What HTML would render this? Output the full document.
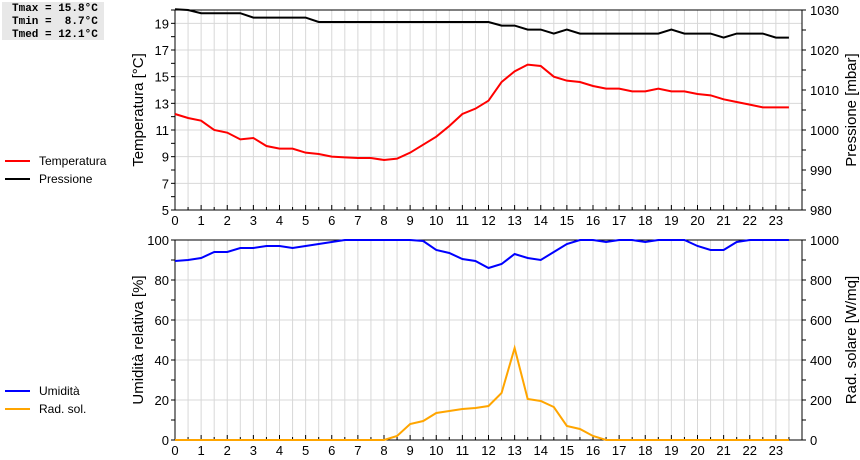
<!DOCTYPE html>
<html><head><meta charset="utf-8">
<style>
body{margin:0;background:#fff;width:860px;height:460px;overflow:hidden;font-family:"Liberation Sans",sans-serif}
#stats{position:absolute;left:2px;top:2px;width:102px;height:38px;background:#e8e8e8;font:bold 11px "Liberation Mono",monospace;line-height:13px;padding:1px 0 0 10px;box-sizing:border-box;white-space:pre}
svg{position:absolute;left:0;top:0}
</style></head><body>
<div id="stats">Tmax = 15.8°C
Tmin =  8.7°C
Tmed = 12.1°C</div>
<svg id="c" width="860" height="460"></svg>
<script>
const hours=[0,0.5,1,1.5,2,2.5,3,3.5,4,4.5,5,5.5,6,6.5,7,7.5,8,8.5,9,9.5,10,10.5,11,11.5,12,12.5,13,13.5,14,14.5,15,15.5,16,16.5,17,17.5,18,18.5,19,19.5,20,20.5,21,21.5,22,22.5,23,23.5];
const temperature=[12.2,11.9,11.7,11.0,10.8,10.3,10.4,9.8,9.6,9.6,9.3,9.2,9.0,8.95,8.9,8.9,8.75,8.85,9.3,9.9,10.5,11.3,12.2,12.6,13.2,14.6,15.4,15.9,15.8,15.0,14.7,14.6,14.3,14.1,14.1,13.9,13.9,14.1,13.9,13.9,13.7,13.6,13.3,13.1,12.9,12.7,12.7,12.7];
const pressure=[1030.2,1030,1029.2,1029.2,1029.2,1029.2,1028.1,1028.1,1028.1,1028.1,1028.1,1027,1027,1027,1027,1027,1027,1027,1027,1027,1027,1027,1027,1027,1027,1026.1,1026.1,1025.1,1025.1,1024.1,1025.1,1024.1,1024.1,1024.1,1024.1,1024.1,1024.1,1024.1,1025.1,1024.1,1024.1,1024.1,1023.1,1024.1,1024.1,1024.1,1023.1,1023.1];
const humidity=[89.5,90,91,94,94,96,96,97,97,96,97,98,99,100,100,100,100,100,100,99.5,95,93.5,90.5,89.5,86,88,93,91,90,94,98,100,100,99,100,100,99,100,100,100,97,95,95,99,100,100,100,100];
const solar=[0,0,0,0,0,0,0,0,0,0,0,0,0,0,0,0,0,20,80,95,135,145,155,160,170,235,460,205,195,165,70,55,20,0,0,0,0,0,0,0,0,0,0,0,0,0,0,0];
const tempTicks=[5,7,9,11,13,15,17,19];
const presTicks=[980,990,1000,1010,1020,1030];
const humTicks=[0,20,40,60,80,100];
const solTicks=[0,200,400,600,800,1000];

const NS="http://www.w3.org/2000/svg",svg=document.getElementById('c');
const L=175,R=802;
const X=h=>L+(R-L)*h/24;
function el(t,a,txt){const e=document.createElementNS(NS,t);for(const k in a)e.setAttribute(k,a[k]);if(txt!=null)e.textContent=txt;svg.appendChild(e);return e;}
function panel(top,bot,lmin,lmax,rmin,rmax,lt,rt,lminor,rminor,lgrid,ltitle,rtitle,pfx){
  const YL=v=>bot-(bot-top)*(v-lmin)/(lmax-lmin);
  const YR=v=>bot-(bot-top)*(v-rmin)/(rmax-rmin);
  for(let h=0.5;h<24;h+=0.5){const g=el('line',{x1:X(h),x2:X(h),y1:top,y2:bot,stroke:'#d8d8d8','stroke-width':1});
    }
  for(let v=lmin+lgrid;v<lmax;v+=lgrid){const g=el('line',{x1:L,x2:R,y1:YL(v),y2:YL(v),stroke:'#d8d8d8'});
    }
  for(let v=lmin;v<=lmax;v+=lminor){el('line',{x1:L,x2:L-4,y1:YL(v),y2:YL(v),stroke:'#000'});}
  for(let v=rmin;v<=rmax;v+=rminor){el('line',{x1:R,x2:R+4,y1:YR(v),y2:YR(v),stroke:'#000'});}
  lt.forEach(v=>{const t=el('text',{x:L-6,y:YL(v)+5,'text-anchor':'end','font-size':13},v);});
  rt.forEach(v=>{const t=el('text',{x:R+8,y:YR(v)+5,'font-size':13},v);});
  for(let h=0;h<24;h++){el('line',{x1:X(h),x2:X(h),y1:bot,y2:bot-5,stroke:'#000'});
    el('line',{x1:X(h+0.5),x2:X(h+0.5),y1:bot,y2:bot-3,stroke:'#000'});
    const t=el('text',{x:X(h),y:bot+15,'text-anchor':'middle','font-size':13},h);}
  const f=el('rect',{x:L,y:top,width:R-L,height:bot-top,fill:'none',stroke:'#000'});
  const cy=(top+bot)/2;
  const a=el('text',{x:143,y:cy,'text-anchor':'middle','font-size':15,transform:`rotate(-90 143 ${cy})`},ltitle);
  const b=el('text',{x:856,y:cy,'text-anchor':'middle','font-size':15,transform:`rotate(-90 856 ${cy})`},rtitle);
  return [YL,YR];
}
function line(arr,Y,color,name){const p=el('polyline',{points:arr.map((v,i)=>X(hours[i])+','+Y(v)).join(' '),fill:'none',stroke:color,'stroke-width':2});
  }
const [T,P]=panel(10,210,5,20,980,1030,tempTicks,presTicks,1,5,2,'Temperatura [°C]','Pressione [mbar]','top');
line(pressure,P,'#000','pressure-line');
line(temperature,T,'#f00','temperature-line');
const [H,S]=panel(240,440,0,100,0,1000,humTicks,solTicks,10,100,20,'Umidità relativa [%]','Rad. solare [W/mq]','bottom');
line(solar,S,'#ffa500','solar-line');
line(humidity,H,'#00f','humidity-line');
function legend(y,color,label,name){el('line',{x1:5,x2:30,y1:y,y2:y,stroke:color,'stroke-width':2});
  const t=el('text',{x:39,y:y+4,'font-size':12},label);}
legend(161,'#f00','Temperatura','legend-temperature');
legend(179,'#000','Pressione','legend-pressure');
legend(391,'#00f','Umidità','legend-humidity');
legend(409,'#ffa500','Rad. sol.','legend-solar');
</script>
</body></html>
